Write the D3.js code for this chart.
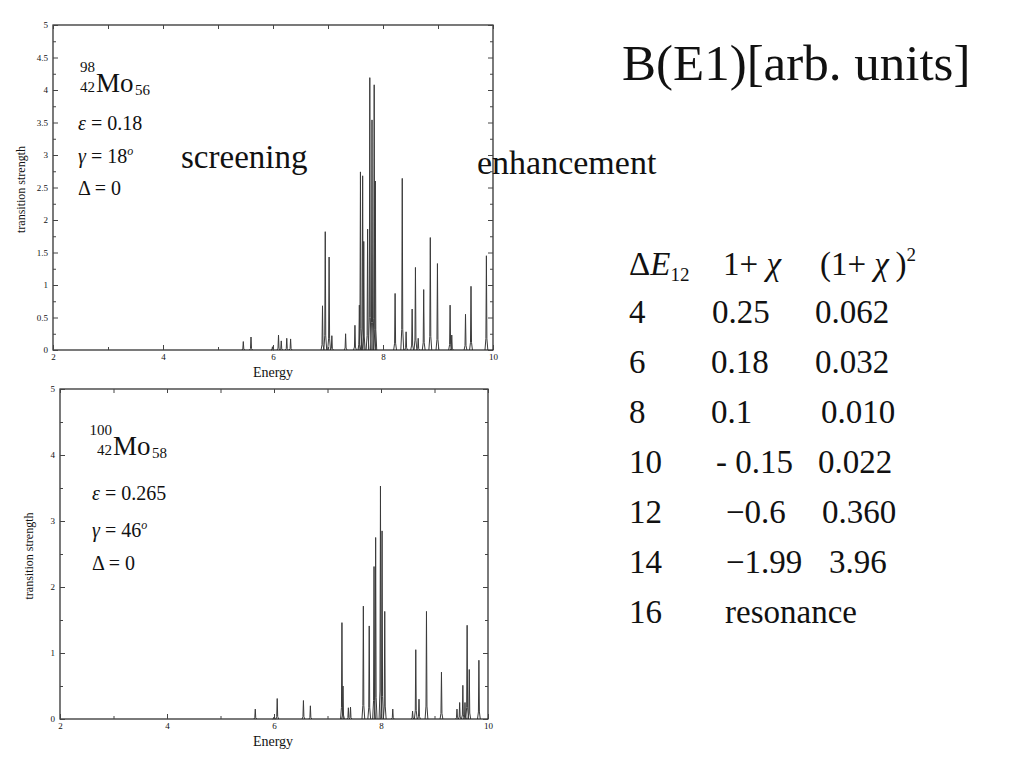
<!DOCTYPE html>
<html><head><meta charset="utf-8">
<script src="https://cdn.jsdelivr.net/npm/d3@7"></script>
<style>
html,body{margin:0;padding:0;background:#fff;}
svg{display:block;}
text{font-family:"Liberation Serif","Times New Roman",serif;fill:#111;}
</style></head>
<body>
<svg id="c" width="1024" height="768"></svg>
<script>
// ---------- DATA ----------
const xTickValues = [2, 4, 6, 8, 10];
const xMinorValues = [3, 5, 7, 9];
const topYTickValues = [0, 0.5, 1, 1.5, 2, 2.5, 3, 3.5, 4, 4.5, 5];
const bottomYTickValues = [0, 1, 2, 3, 4, 5];

// Mo-98 spectrum: peak energies and transition strengths
const topEnergies  = [5.46,5.60,5.99,6.10,6.15,6.25,6.32,6.90,6.95,7.02,7.07,7.32,7.49,7.57,7.59,7.63,7.65,7.72,7.76,7.80,7.84,7.86,8.22,8.35,8.42,8.53,8.59,8.64,8.74,8.86,8.99,9.22,9.25,9.50,9.60,9.88];
const topStrengths = [0.13,0.20,0.05,0.23,0.14,0.18,0.17,0.68,1.82,1.43,0.22,0.25,0.38,0.69,2.74,2.68,1.67,1.86,4.19,3.54,4.08,2.60,0.87,2.64,0.28,0.63,1.27,0.18,0.93,1.73,1.33,0.69,0.23,0.55,0.98,1.45];

// Mo-100 spectrum
const bottomEnergies  = [5.65,6.00,6.06,6.55,6.68,7.27,7.29,7.39,7.43,7.67,7.78,7.87,7.90,7.99,8.02,8.07,8.22,8.59,8.65,8.71,8.85,9.13,9.42,9.47,9.53,9.57,9.61,9.65,9.83];
const bottomStrengths = [0.15,0.03,0.31,0.28,0.20,1.46,0.50,0.17,0.18,1.71,1.41,2.31,2.75,3.53,2.85,1.63,0.15,0.12,1.05,0.30,1.63,0.71,0.15,0.25,0.51,0.25,1.42,0.75,0.89];

// Table
const deltaE = ["4","6","8","10","12","14","16"];
const onePlusChi = ["0.25","0.18","0.1","- 0.15","\u22120.6","\u22121.99","resonance"];
const onePlusChiSq = ["0.062","0.032","0.010","0.022","0.360","3.96",""];

// ---------- LAYOUT ----------
const svg = d3.select("#c");
const SERIF = '"Liberation Serif","Times New Roman",serif';

function drawPanel(cfg){
  const g = svg.append("g");
  const x = d3.scaleLinear().domain([2,10]).range([cfg.x0, cfg.x1]);
  const y = d3.scaleLinear().domain([0,5]).range([cfg.y0, cfg.y1]);

  const hw = 0.026;
  const line = d3.line().x(d=>x(d[0])).y(d=>y(d[1]));
  cfg.energies.forEach((e,i)=>{
    const v = cfg.strengths[i];
    g.append("path")
      .attr("d", line([[e-hw,0],[e-hw*0.35,v*0.12],[e,v],[e+hw*0.35,v*0.12],[e+hw,0]]))
      .attr("fill","none").attr("stroke","#3a3a3a").attr("stroke-width",1);
  });

  g.append("rect").attr("x",cfg.x0).attr("y",cfg.y1)
    .attr("width",cfg.x1-cfg.x0).attr("height",cfg.y0-cfg.y1)
    .attr("fill","none").attr("stroke","#222").attr("stroke-width",1.2);

  const fmt = d=>String(d);
  const bAx = g.append("g").attr("transform",`translate(0,${cfg.y0})`).call(d3.axisBottom(x).tickValues(xTickValues).tickSize(-5).tickPadding(4).tickFormat(fmt));
  const bMin = g.append("g").attr("transform",`translate(0,${cfg.y0})`).call(d3.axisBottom(x).tickValues(xMinorValues).tickSize(-3).tickFormat(""));
  const tAx = g.append("g").attr("transform",`translate(0,${cfg.y1})`).call(d3.axisTop(x).tickValues(xTickValues.concat(xMinorValues)).tickSize(-4).tickFormat(""));
  const lAx = g.append("g").attr("transform",`translate(${cfg.x0},0)`).call(d3.axisLeft(y).tickValues(cfg.yTicks).tickSize(-5).tickPadding(5).tickFormat(fmt));
  const lMin = g.append("g").attr("transform",`translate(${cfg.x0},0)`).call(d3.axisLeft(y).tickValues(cfg.yMinor).tickSize(-3).tickFormat(""));
  const rAx = g.append("g").attr("transform",`translate(${cfg.x1},0)`).call(d3.axisRight(y).tickValues(cfg.yTicks).tickSize(-5).tickFormat(""));
  const rMin = g.append("g").attr("transform",`translate(${cfg.x1},0)`).call(d3.axisRight(y).tickValues(cfg.yMinor).tickSize(-3).tickFormat(""));
  [bAx,bMin,tAx,lAx,lMin,rAx,rMin].forEach(a=>{
    a.select(".domain").remove();
    a.selectAll("line").attr("stroke","#444");
    a.selectAll("text").style("font-family",SERIF).style("font-size","9px").attr("fill","#444");
  });

  g.append("text").attr("x",(cfg.x0+cfg.x1)/2 + cfg.energyDx).attr("y",cfg.y0+27)
    .attr("text-anchor","middle").style("font-size","14px").text("Energy");
  g.append("text").attr("transform",`translate(${cfg.ylabX},${(cfg.y0+cfg.y1)/2 + cfg.ylabDy}) rotate(-90)`)
    .attr("text-anchor","middle").style("font-size","12px").text("transition strength");
  return g;
}

drawPanel({x0:53,x1:493,y0:350,y1:25,energies:topEnergies,strengths:topStrengths,
  yTicks:topYTickValues,yMinor:d3.range(0.25,5,0.5),energyDx:0,ylabX:25,ylabDy:2});
drawPanel({x0:60,x1:488,y0:719,y1:389,energies:bottomEnergies,strengths:bottomStrengths,
  yTicks:bottomYTickValues,yMinor:d3.range(0.5,5,1),energyDx:-1,ylabX:33,ylabDy:2});

// ---------- annotations ----------
function nucleus(xm, ymBase, mass, z, n){
  svg.append("text").attr("x",xm - 1).attr("y",ymBase-20).style("font-size","15px").attr("text-anchor","end").text(mass);
  svg.append("text").attr("x",xm - 1).attr("y",ymBase).style("font-size","15px").attr("text-anchor","end").text(z);
  svg.append("text").attr("x",xm).attr("y",ymBase).style("font-size","27px").text("Mo");
  svg.append("text").attr("x",xm+39).attr("y",ymBase+3).style("font-size","15px").text(n);
}
nucleus(96, 92, "98", "42", "56");
nucleus(113, 455, "100", "42", "58");

function param(x0, yb, sym, val, sup, italic){
  const t = svg.append("text").attr("x",x0).attr("y",yb).style("font-size","20px");
  t.append("tspan").style("font-style", italic ? "italic" : "normal").text(sym);
  t.append("tspan").text(" = " + val);
  if(sup) t.append("tspan").attr("dy",-8).style("font-size","12px").style("font-style","italic").text(sup);
  return t;
}
param(78,130,"\u03B5","0.18",null,true);
param(78,163,"\u03B3","18","o",true);
param(78,195,"\u0394","0",null,false);
param(92,500,"\u03B5","0.265",null,true);
param(92,537,"\u03B3","46","o",true);
param(92,570,"\u0394","0",null,false);

svg.append("text").attr("x",181).attr("y",168).style("font-size","33px").text("screening");
svg.append("text").attr("x",477).attr("y",174).style("font-size","34px").text("enhancement");
svg.append("text").attr("x",622).attr("y",80).style("font-size","51px").text("B(E1)[arb. units]");

// ---------- table ----------
const hdr = svg.append("g").style("font-size","33px");
const h1 = hdr.append("text").attr("x",629).attr("y",275);
h1.append("tspan").text("\u0394");
h1.append("tspan").style("font-style","italic").text("E");
h1.append("tspan").attr("dy",6).style("font-size","19px").text("12");
const h2 = hdr.append("text").attr("x",723).attr("y",275);
h2.append("tspan").text("1+ ");
h2.append("tspan").style("font-style","italic").text("\u03C7");
const h3 = hdr.append("text").attr("x",820).attr("y",275);
h3.append("tspan").text("(1+ ");
h3.append("tspan").style("font-style","italic").text("\u03C7");
h3.append("tspan").text("\u2009)");
h3.append("tspan").attr("dy",-14).style("font-size","19px").text("2");

const rowY = d3.scaleLinear().domain([0,6]).range([323,623]);
const col2X = [712,711,711,716,726,726,725];
const col3X = [815,815,821,818,822,829,0];
const tb = svg.append("g").style("font-size","33px");
tb.selectAll("text.c1").data(deltaE).join("text").attr("class","c1")
  .attr("x",629).attr("y",(d,i)=>rowY(i)).text(d=>d);
tb.selectAll("text.c2").data(onePlusChi).join("text").attr("class","c2")
  .attr("x",(d,i)=>col2X[i]).attr("y",(d,i)=>rowY(i)).text(d=>d);
tb.selectAll("text.c3").data(onePlusChiSq).join("text").attr("class","c3")
  .attr("x",(d,i)=>col3X[i]).attr("y",(d,i)=>rowY(i)).text(d=>d);
</script>
</body></html>
